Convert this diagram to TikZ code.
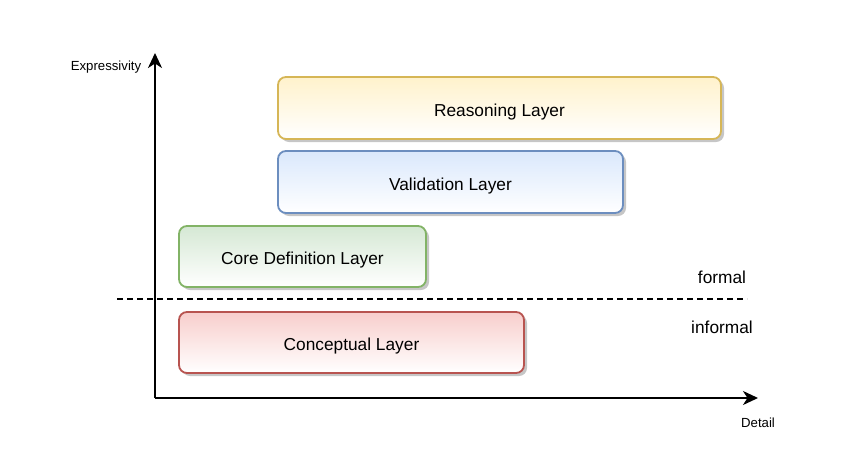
\documentclass[tikz,border=0pt]{standalone}
\usepackage{fontspec}
\setmainfont{Liberation Sans}
\usetikzlibrary{arrows.meta,shadows}
\definecolor{yfill}{HTML}{FFF2CC}\definecolor{ydraw}{HTML}{D6B656}
\definecolor{bfill}{HTML}{DAE8FC}\definecolor{bdraw}{HTML}{6C8EBF}
\definecolor{gfill}{HTML}{D5E8D4}\definecolor{gdraw}{HTML}{82B366}
\definecolor{rfill}{HTML}{F8CECC}\definecolor{rdraw}{HTML}{B85450}
\tikzset{
  layer/.style={draw, line width=1.8pt, rounded corners=8pt, bottom color=white,
    drop shadow={shadow xshift=3pt, shadow yshift=-3pt, opacity=0.45, fill=black!50},
    font=\fontsize{17.3}{20}\selectfont, inner sep=0pt, text height=16pt, text depth=0pt},
  axis/.style={line width=2pt, -{Stealth[length=15pt,width=14pt,inset=4.5pt]}},
  lbl/.style={font=\fontsize{13.2}{16}\selectfont, inner sep=0pt},
  side/.style={font=\fontsize{17.3}{20}\selectfont, inner sep=0pt}
}
\begin{document}
\begin{tikzpicture}[x=1pt,y=-1pt]
\useasboundingbox (0,0) rectangle (854,453);
\coordinate (o) at (155,398);
\coordinate (ytip) at (155,53);
\coordinate (xtip) at (758,398);
\draw[axis] (o) -- (ytip);
\draw[axis] (o) -- (xtip);
\node[lbl] (ylab) at (106,67) {Expressivity};
\node[lbl] (xlab) at (758,423) {Detail};
\coordinate (dl) at (117,299);
\coordinate (dr) at (747,299);
\draw[line width=1.8pt, dash pattern=on 6pt off 4pt] (dl) -- (dr);
\node[side] (formal) at (722,277) {formal};
\node[side] (informal) at (722,327) {informal};
\node[layer, draw=ydraw, top color=yfill, minimum width=443pt, minimum height=62pt] (reason) at (499.5,108) {Reasoning Layer};
\node[layer, draw=bdraw, top color=bfill, minimum width=345pt, minimum height=62pt] (valid) at (450.5,182) {Validation Layer};
\node[layer, draw=gdraw, top color=gfill, minimum width=247pt, minimum height=61pt] (core) at (302.5,256.5) {Core Definition Layer};
\node[layer, draw=rdraw, top color=rfill, minimum width=345pt, minimum height=61pt] (concept) at (351.5,342.5) {Conceptual Layer};
\end{tikzpicture}
\end{document}
